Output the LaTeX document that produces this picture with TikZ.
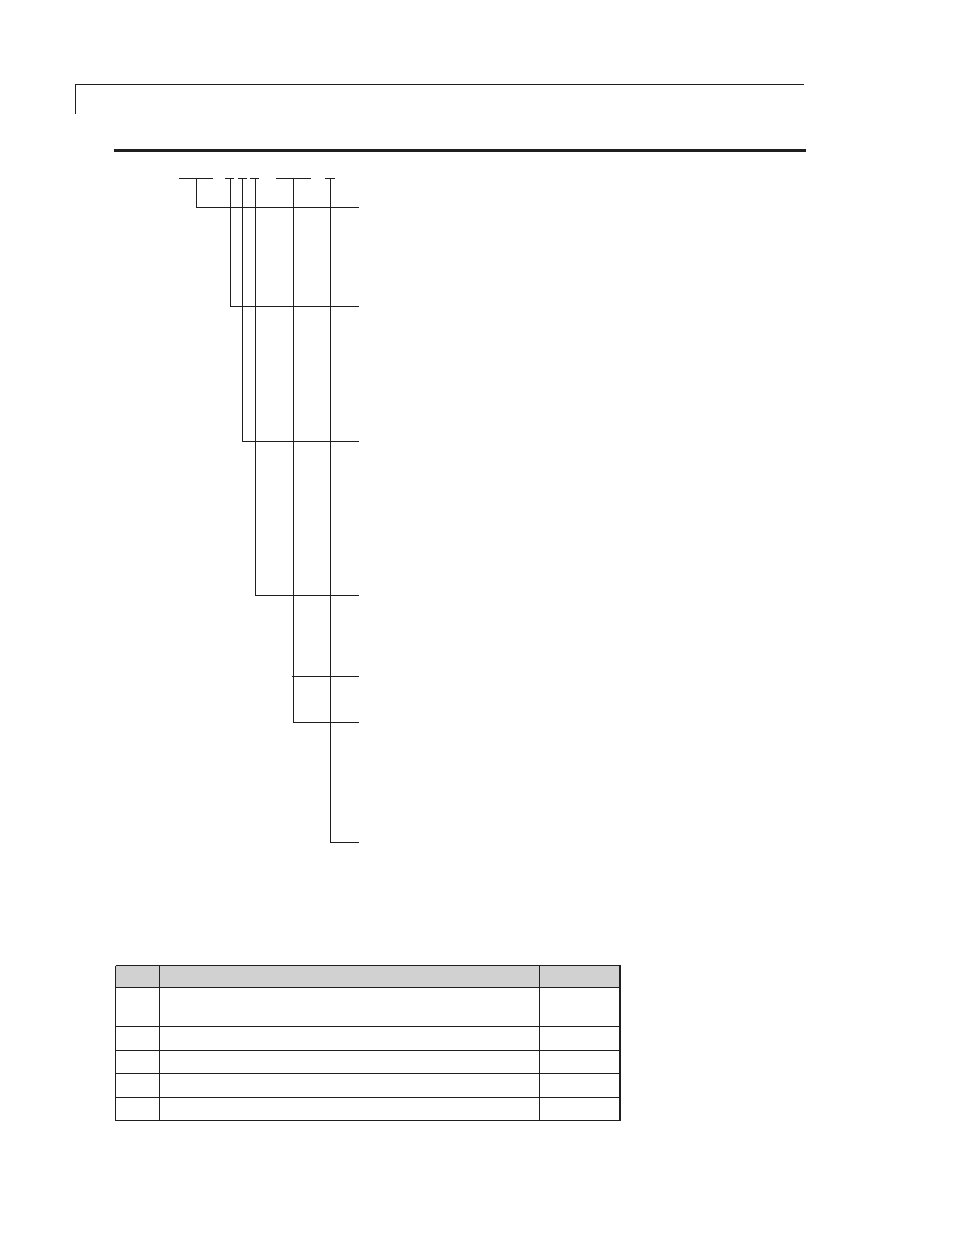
\documentclass[tikz,border=0pt]{standalone}
\begin{document}
\begin{tikzpicture}[x=1pt,y=-1pt,
  leader/.style={line width=1.2pt,draw=black!88},
  rule/.style={line width=1.2pt,draw=black!88},
  thickrule/.style={line width=2.6pt,draw=black!88},
  grid/.style={line width=1.2pt,draw=black!88},
  hdr/.style={fill=black!18,draw=none}]
\useasboundingbox (0,0) rectangle (954,1235);
% header rules
\coordinate (tl) at (75.5,84.5);
\coordinate (tr) at (803.5,84.5);
\coordinate (tb) at (75.5,113.5);
\draw[rule] (tb) -- (tl) -- (tr);
\coordinate (kl) at (114,150.3);
\coordinate (kr) at (805.7,150.3);
\draw[thickrule] (kl) -- (kr);
% leader lines
\coordinate (a1) at (179.3,178.5); \coordinate (a2) at (212.7,178.5);
\coordinate (b1) at (225,178.5);   \coordinate (b2) at (234,178.5);
\coordinate (c1) at (238,178.5);   \coordinate (c2) at (246.7,178.5);
\coordinate (d1) at (250,178.5);   \coordinate (d2) at (259.3,178.5);
\coordinate (e1) at (276,178.5);   \coordinate (e2) at (310.7,178.5);
\coordinate (f1) at (325.3,178.5); \coordinate (f2) at (334.7,178.5);
\foreach \p in {a,b,c,d,e,f}{\draw[leader] (\p1) -- (\p2);}
\coordinate (av) at (196.5,178.5); \coordinate (ae) at (196.5,207.5); \coordinate (ar) at (359,207.5);
\coordinate (bv) at (230.5,178.5); \coordinate (be) at (230.5,306.5); \coordinate (br) at (359,306.5);
\coordinate (cv) at (242.5,178.5); \coordinate (ce) at (242.5,441.5); \coordinate (cr) at (359,441.5);
\coordinate (dv) at (255.5,178.5); \coordinate (de) at (255.5,595.5); \coordinate (dr) at (359,595.5);
\coordinate (ev) at (293.5,178.5); \coordinate (ee) at (293.5,722.5); \coordinate (er) at (359,722.5);
\coordinate (fv) at (330.5,178.5); \coordinate (fe) at (330.5,842.5); \coordinate (fr) at (359,842.5);
\foreach \p in {a,b,c,d,e,f}{\draw[leader] (\p v) -- (\p e) -- (\p r);}
\coordinate (gl) at (291.5,676.5); \coordinate (gr) at (359,676.5);
\draw[leader] (gl) -- (gr);
% table
\coordinate (T0) at (115.5,965.5);
\coordinate (T1) at (620.5,1120.5);
\fill[hdr] (115.5,965.5) rectangle (620.5,987.5);
\foreach \y in {965.5,987.5,1026.5,1050.5,1073.5,1097.5,1120.5}{
  \draw[grid] (115.5,\y) -- (620.5,\y);}
\draw[grid] (115.5,965.5) -- (115.5,1120.5);
\draw[grid] (159.5,965.5) -- (159.5,1120.5);
\draw[grid] (539.5,965.5) -- (539.5,1120.5);
\draw[line width=2.4pt,draw=black!88] (620.2,964.9) -- (620.2,1121.1);
\end{tikzpicture}
\end{document}
